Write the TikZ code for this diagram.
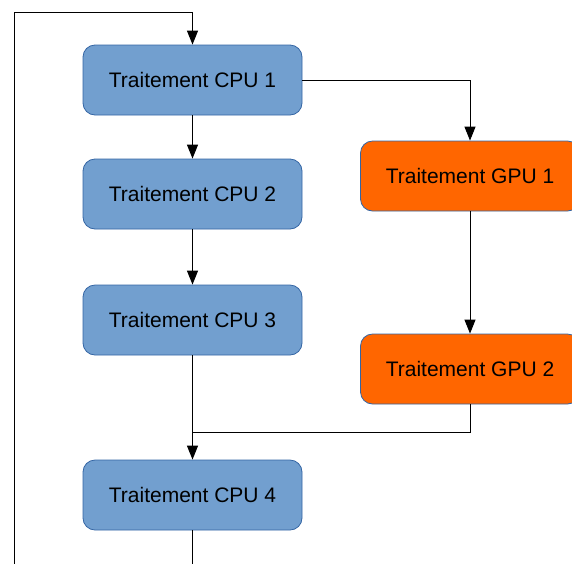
\documentclass[tikz,border=0pt]{standalone}
\usepackage{fontspec}
\setmainfont{Liberation Sans}
\usepackage{tikz}
\usetikzlibrary{positioning,arrows.meta}
\definecolor{cpublue}{RGB}{114,159,207}
\definecolor{gpuorange}{RGB}{255,102,0}
\definecolor{boxedge}{RGB}{52,101,164}

\begin{document}
\begin{tikzpicture}[x=1pt,y=-1pt,
    cpubox/.style={rectangle,rounded corners=12pt,draw=boxedge,line width=0.8pt,fill=cpublue,
        minimum width=219pt,minimum height=70pt,font=\fontsize{21}{24}\selectfont},
    gpubox/.style={cpubox,fill=gpuorange},
    flow/.style={line width=1pt,-{Triangle[length=14pt,width=11pt]}},
    link/.style={line width=1pt}]
\useasboundingbox (0,0) rectangle (572,563);
\clip (0,0) rectangle (572,563);
% CPU side
\node[cpubox] (cpu1) at (192.5,80) {Traitement CPU 1};
\node[cpubox] (cpu2) at (192.5,194) {Traitement CPU 2};
\node[cpubox] (cpu3) at (192.5,320) {Traitement CPU 3};
\node[cpubox] (cpu4) at (192.5,495) {Traitement CPU 4};

% GPU side
\node[gpubox] (gpu1) at (470,176) {Traitement GPU 1};
\node[gpubox] (gpu2) at (470,369) {Traitement GPU 2};

% Helper points
\coordinate (join) at (192.5,432);
\coordinate (loopbot) at (192.5,590);
\coordinate (looptop) at (14,12);

% Connections
\draw[flow] (cpu1) -- (cpu2);
\draw[flow] (cpu2) -- (cpu3);
\draw[flow] (cpu3) -- (cpu4);
\draw[flow] (cpu1) -| (gpu1);
\draw[flow] (gpu1) -- (gpu2);
\draw[link] (gpu2) |- (join);
\draw[flow] (cpu4) -- (loopbot) -| (looptop) -| (cpu1);
\end{tikzpicture}
\end{document}
